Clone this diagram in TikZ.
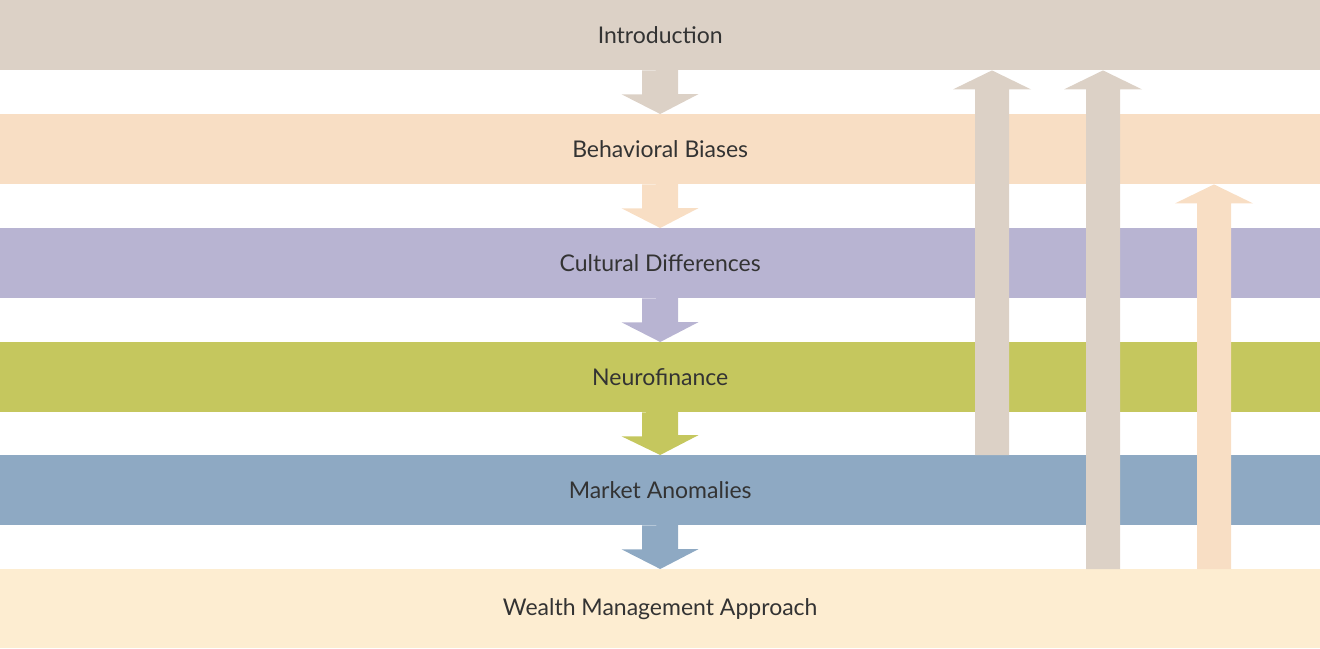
\documentclass[tikz,border=0pt]{standalone}
\usepackage{fontspec}
\setmainfont{Lato}
\usetikzlibrary{calc}
\definecolor{cIntro}{HTML}{DCD1C6}
\definecolor{cBias}{HTML}{F8DEC4}
\definecolor{cCult}{HTML}{B8B4D2}
\definecolor{cNeuro}{HTML}{C5C75E}
\definecolor{cMkt}{HTML}{8EA9C3}
\definecolor{cWealth}{HTML}{FDEDD1}
\definecolor{txt}{HTML}{333333}
\newcommand\dnarr[3]{%
  \fill[#3] ($(#1.south)+(-18,0)$) -- ++(0,24) -- ++(-20.5,0) -- (#2.north)
    -- ++(38.5,-20) -- ++(-20.5,0) -- ++(0,-24) -- cycle;}
\newcommand\uparr[4]{%
  \fill[#4] ($(#2.north west)+(#1-17,0)$) -- ($(#3.south west)+(#1-17,19)$)
    -- ++(-22,0) -- ($(#3.south west)+(#1,0)$) -- ++(39,19) -- ++(-22,0)
    -- ($(#2.north west)+(#1+17,0)$) -- cycle;}
\begin{document}
\begin{tikzpicture}[x=1pt,y=-1pt,
  band/.style={minimum width=1320pt, minimum height=70pt, inner sep=0pt,
    anchor=north west, font=\fontsize{23}{27}\selectfont, text=txt}]
\useasboundingbox (0,0) rectangle (1320,648);
\node[band, fill=cIntro] (intro) at (0,0) {Introduction};
\node[band, fill=cBias] (bias) at (0,114) {Behavioral Biases};
\node[band, fill=cCult] (cult) at (0,228) {Cultural Differences};
\node[band, fill=cNeuro] (neuro) at (0,342) {Neurofinance};
\node[band, fill=cMkt] (mkt) at (0,455) {Market Anomalies};
\node[band, fill=cWealth, minimum height=79pt] (wealth) at (0,569) {Wealth Management Approach};
\dnarr{intro}{bias}{cIntro}
\dnarr{bias}{cult}{cBias}
\dnarr{cult}{neuro}{cCult}
\dnarr{neuro}{mkt}{cNeuro}
\dnarr{mkt}{wealth}{cMkt}
\uparr{992}{mkt}{intro}{cIntro}
\uparr{1103}{wealth}{intro}{cIntro}
\uparr{1214}{wealth}{bias}{cBias}
\end{tikzpicture}
\end{document}
